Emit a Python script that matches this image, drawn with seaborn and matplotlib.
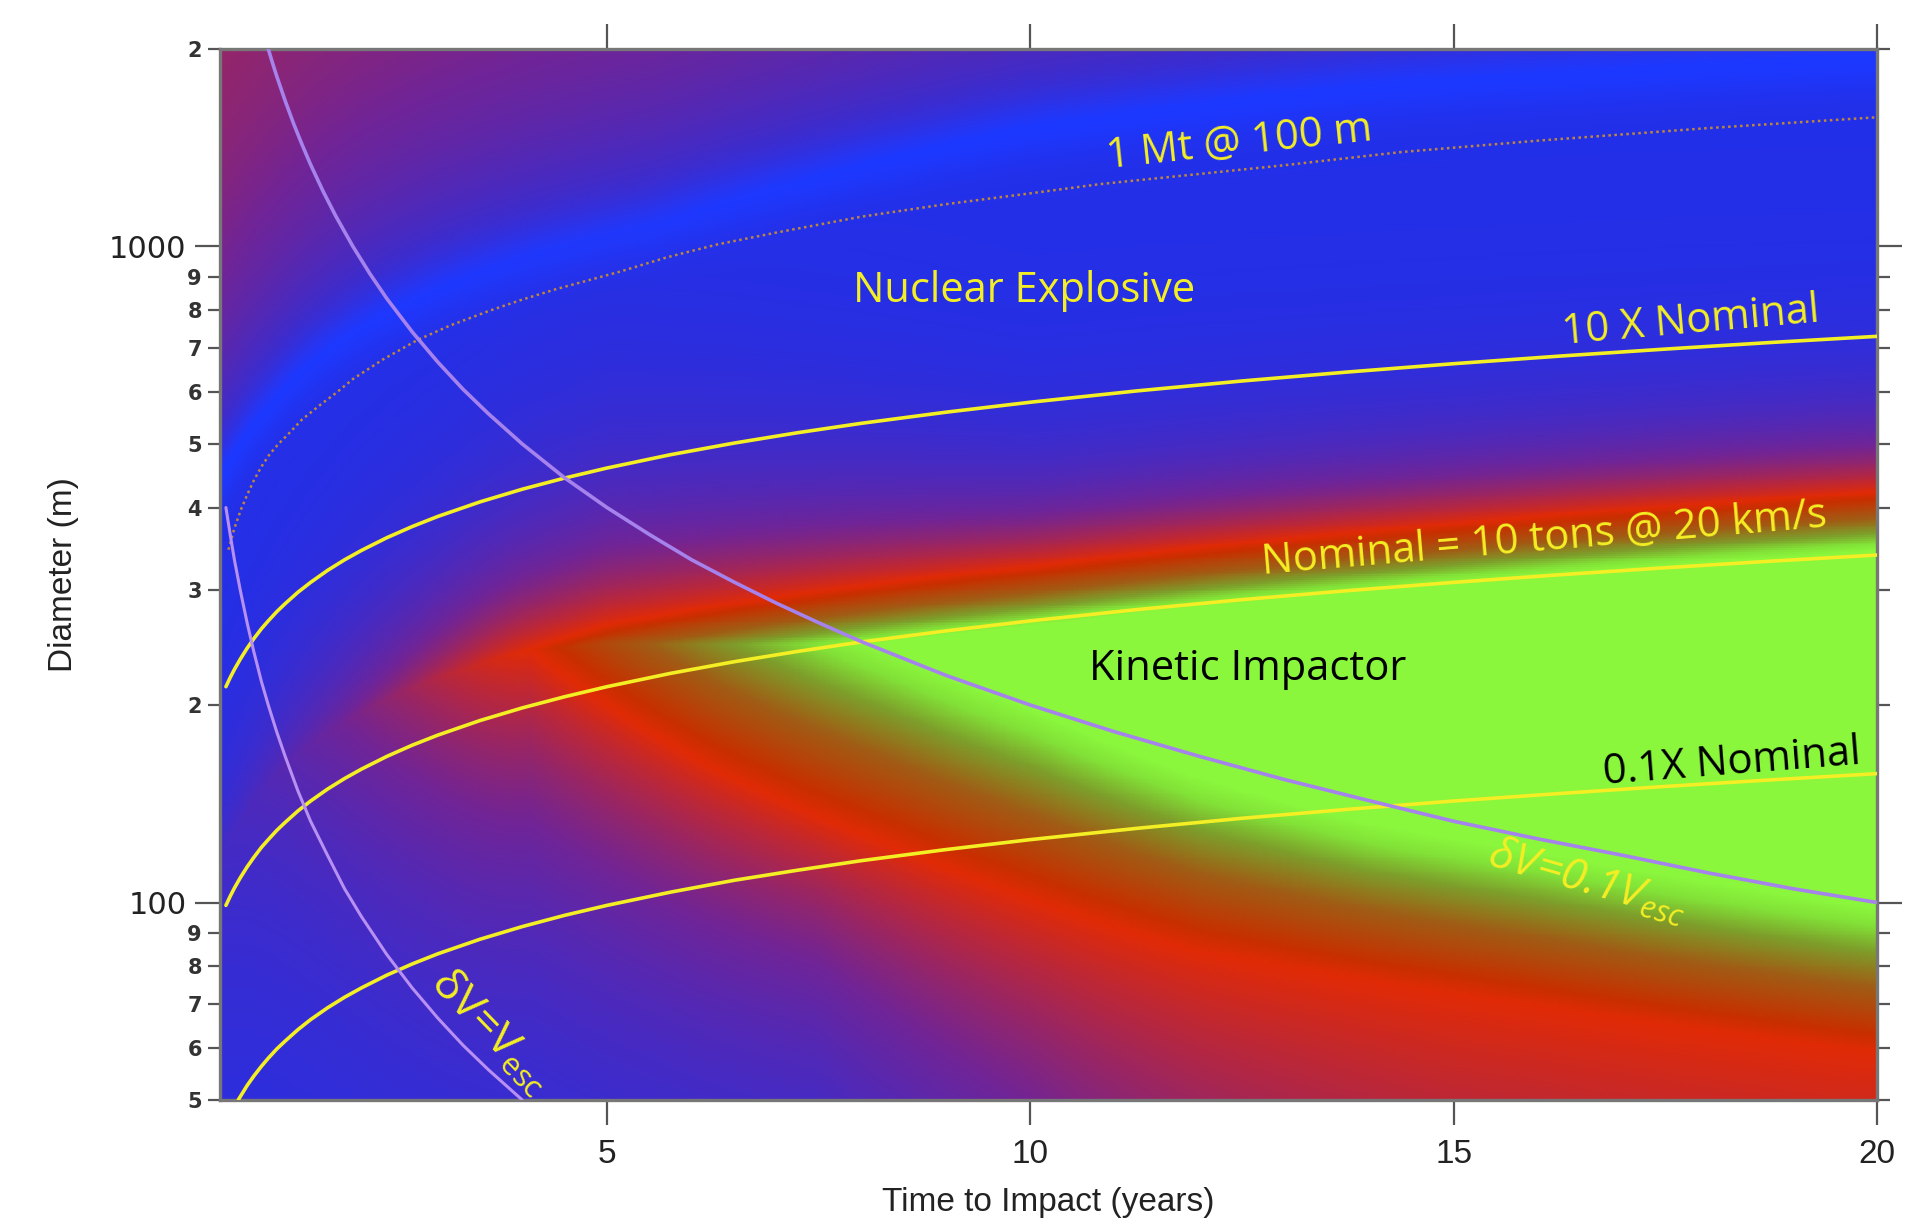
import numpy as np
import matplotlib
matplotlib.use("Agg")
import matplotlib.pyplot as plt
import seaborn as sns

sns.set_theme(style="white")
plt.rcParams["font.family"] = ["Open Sans", "DejaVu Sans"]
plt.rcParams["mathtext.default"] = "regular"

# ---------------- data ----------------
# kinetic-impactor curves (diameter in m vs time to impact in years)
t_nominal = [0.5, 0.55, 0.6, 0.67, 0.75, 0.83, 0.92, 1.0, 1.1, 1.2, 1.35, 1.5, 1.7, 1.9, 2.1, 2.4, 2.7,
             3.0, 3.5, 4, 4.5, 5, 5.75, 6.5, 7.25, 8, 9, 10, 11.25, 12.5, 13.75, 15, 16.25, 17.5, 18.75, 20]
D_nominal = [99.0, 102.2, 105.2, 109.1, 113.3, 117.2, 121.4, 124.7, 128.8, 132.5, 137.9, 142.8, 148.9,
             154.5, 159.7, 167.0, 173.7, 179.9, 189.4, 198.0, 205.9, 213.3, 223.5, 232.8, 241.4, 249.5,
             259.4, 268.7, 279.5, 289.5, 298.8, 307.6, 315.9, 323.8, 331.4, 338.6]
t_10x = t_nominal
D_10x = [213.3, 220.2, 226.6, 235.0, 244.1, 252.5, 261.5, 268.7, 277.5, 285.5, 297.1, 307.6, 320.8,
         332.9, 344.1, 359.8, 374.2, 387.6, 408.0, 426.6, 443.6, 459.5, 481.5, 501.5, 520.1, 537.5,
         558.9, 578.9, 602.2, 623.7, 643.7, 662.7, 680.6, 697.6, 714.0, 729.5]
t_01x = [0.645, 0.75, 0.83, 0.92, 1.0, 1.1, 1.2, 1.35, 1.5, 1.7, 1.9, 2.1, 2.4, 2.7, 3.0, 3.5, 4, 4.5,
         5, 5.75, 6.5, 7.25, 8, 9, 10, 11.25, 12.5, 13.75, 15, 16.25, 17.5, 18.75, 20]
D_01x = [50.0, 52.6, 54.4, 56.3, 57.9, 59.8, 61.5, 64.0, 66.3, 69.1, 71.7, 74.1, 77.5, 80.6, 83.5, 87.9,
         91.9, 95.6, 99.0, 103.7, 108.1, 112.0, 115.8, 120.4, 124.7, 129.7, 134.4, 138.7, 142.8, 146.6,
         150.3, 153.8, 157.2]
# nuclear 1 Mt @ 100 m curve (dotted)
t_1mt = [0.53, 0.6, 0.68, 0.75, 0.83, 0.92, 1.02, 1.12, 1.22, 1.4, 1.61, 1.8, 2.0, 2.35, 2.76, 3.15, 3.6,
         4.0, 4.4, 5.16, 5.7, 6.3, 7, 8, 9, 10, 10.83, 12, 13, 14.38, 16, 18, 20]
D_1mt = [345, 372, 398, 418, 440, 462, 483, 500, 515, 545, 573, 598, 628, 672, 720, 758, 797, 830, 861,
         916, 962, 1007, 1050, 1110, 1160, 1205, 1245, 1290, 1330, 1393, 1450, 1515, 1574]
# deltaV = 0.1 Vesc and deltaV = Vesc curves
t_dv01 = [1.0, 1.05, 1.1, 1.2, 1.3, 1.4, 1.5, 1.65, 1.8, 2.0, 2.2, 2.4, 2.7, 3.0, 3.3, 3.6, 4.0, 4.5, 5.0,
          5.5, 6.0, 6.5, 7.0, 7.5, 8, 9, 10, 11, 12, 13, 14, 15, 16, 17, 18, 19, 20]
D_dv01 = [2000, 1905, 1818, 1667, 1538, 1429, 1333, 1212, 1111, 1000, 909, 833, 741, 667, 606, 556, 500,
          444, 400, 364, 333, 308, 286, 267, 250, 222, 200, 182, 167, 154, 143, 133, 125, 118, 111, 105, 100]
t_dv1 = [0.5, 0.55, 0.6, 0.67, 0.75, 0.83, 0.92, 1.0, 1.1, 1.2, 1.35, 1.5, 1.7, 1.9, 2.1, 2.4, 2.7, 3.0,
         3.3, 3.6, 4.0]
D_dv1 = [400, 364, 333, 299, 267, 241, 217, 200, 182, 167, 148, 133, 118, 105, 95.2, 83.3, 74.1, 66.7,
         60.6, 55.6, 50]
# background field: red-band ridges of the kinetic region and the bright nuclear band
t_kin_upper = [0.43, 1, 2, 3, 4.09, 5, 7, 10, 14.4, 20]
D_kin_upper = [115, 152, 192, 220, 243, 265, 292, 325, 372, 423]
t_kin_lower = [4.09, 5, 6.25, 8.36, 10.83, 12, 15.8, 20]
D_kin_lower = [243, 200, 160, 122, 93, 84, 70, 59]
t_nuc = [0.43, 0.63, 1, 2, 4, 5.55, 7, 10, 14, 20]
D_nuc = [445, 492, 570, 743, 962, 1081, 1230, 1520, 1760, 1950]

x_ticks = [5, 10, 15, 20]
y_major = [100, 1000]
y_major_labels = ["100", "1000"]
y_minor = [50, 60, 70, 80, 90, 200, 300, 400, 500, 600, 700, 800, 900, 2000]
y_minor_labels = ["5", "6", "7", "8", "9", "2", "3", "4", "5", "6", "7", "8", "9", "2"]

# ---------------- figure ----------------
fig = plt.figure(figsize=(19.13, 12.27), dpi=100)
ax = fig.add_axes([220 / 1913, 127 / 1227, 1657 / 1913, 1051 / 1227])
ax.set_yscale("log")
ax.set_xlim(0.43, 20.0)
ax.set_ylim(50, 2000)

# ---------------- background field ----------------
tt = np.linspace(0.43, 20.0, 760)
ld = np.linspace(np.log10(50), np.log10(2000), 560)
TT, LD = np.meshgrid(tt, ld)


def logcurve(t, ts, Ds):
    return np.interp(np.log10(t), np.log10(ts), np.log10(Ds))


apex = t_kin_lower[0]
up = logcurve(TT, t_kin_upper, D_kin_upper)
lo = np.where(TT >= apex, logcurve(TT, t_kin_lower, D_kin_lower), up)
lo = np.minimum(lo, up)
lam_up = np.interp(TT, [0.43, 3, 5, 10, 20], [0.15, 0.14, 0.15, 0.1, 0.09])
lam_lo = np.interp(TT, [0.43, 4, 7.5, 10, 15, 20], [0.35, 0.33, 0.28, 0.4, 0.8, 0.9])
w_lo = np.interp(TT, [4, 10, 14, 20], [0.3, 0.29, 0.24, 0.22])
d_above = LD - up
d_below = lo - LD
fade = np.where(TT < apex, np.exp(-(np.clip(apex - TT, 0, None) / 2.6) ** 1.5), 1.0)
rk = np.ones_like(LD)
rk = np.where(d_above > 0, np.exp(-np.clip(d_above, 0, None) / lam_up), rk)
rk = np.where(d_below > 0, np.exp(-np.clip(d_below, 0, None) / lam_lo), rk)
rk = rk * fade

nuc = logcurve(TT, t_nuc, D_nuc)
dn = LD - nuc
rn = np.where(dn > 0, 0.7 * (1 - np.exp(-np.clip(dn, 0, None) / 0.3)), 0.0)
r = 1 - (1 - rk) * (1 - rn)


def ramp(x, stops, cols):
    cols = np.asarray(cols, float) / 255.0
    return np.stack([np.interp(x, stops, cols[:, i]) for i in range(3)], axis=-1)


base_blue = np.array([34, 47, 232]) / 255.0
bright_blue = np.array([28, 56, 255]) / 255.0
out_col = ramp(r, [0, 0.45, 0.75, 1.0],
               [(34, 47, 232), (112, 36, 150), (176, 38, 70), (224, 42, 6)])
bright = np.exp(-(dn / 0.05) ** 2) * (1 - r) ** 2
out_col = out_col + bright[..., None] * (bright_blue - base_blue)

inside = (d_above <= 0) & (d_below <= 0) & (TT >= apex)
g = np.clip(np.minimum(-d_above / 0.09, -d_below / w_lo), 0, 1)
in_col = ramp(g, [0, 0.12, 0.45, 0.7, 0.88, 1.0],
              [(224, 42, 6), (200, 46, 0), (160, 92, 20), (125, 158, 42), (130, 226, 55), (138, 246, 60)])
rgb = np.where(inside[..., None], in_col, out_col)
rgb = np.clip(rgb, 0, 1)

ax.pcolormesh(tt, 10 ** ld, rgb, shading="nearest", rasterized=True,
              antialiased=False, linewidth=0, zorder=0)

# ---------------- curves ----------------
yellow = "#f4ee24"
sns.lineplot(x=t_1mt, y=D_1mt, ax=ax, color="#c0873c", linewidth=1.8,
             linestyle=(0, (1, 1.4)), sort=False, estimator=None, zorder=3)
for tx, dy in [(t_10x, D_10x), (t_nominal, D_nominal), (t_01x, D_01x)]:
    sns.lineplot(x=tx, y=dy, ax=ax, color=yellow, linewidth=2.6, sort=False, estimator=None, zorder=3)
sns.lineplot(x=t_dv01, y=D_dv01, ax=ax, color="#a682ec", linewidth=2.6, sort=False, estimator=None, zorder=4)
sns.lineplot(x=t_dv1, y=D_dv1, ax=ax, color="#b890f2", linewidth=2.2, sort=False, estimator=None, zorder=4)

# ---------------- annotations ----------------
tk = dict(ha="center", va="center", rotation_mode="anchor", fontsize=30, zorder=6)
ax.text(12.47, 1436, "1 Mt @ 100 m", color=yellow, rotation=6, **tk)
ax.text(9.93, 855, "Nuclear Explosive", color=yellow, rotation=0, **tk)
ax.text(17.8, 769, "10 X Nominal", color=yellow, rotation=5, **tk)
ax.text(16.07, 358, "Nominal = 10 tons @ 20 km/s", color=yellow, rotation=4.8, **tk)
ax.text(12.57, 227, "Kinetic Impactor", color="black", rotation=0, **tk)
ax.text(18.28, 163, "0.1X Nominal", color="black", rotation=4.5, **tk)
tk["fontsize"] = 32
ax.text(16.58, 107.5, "δV=0.1V$_{esc}$", color=yellow, rotation=-16, style="italic", **tk)
ax.text(3.62, 63.4, "δV=V$_{esc}$", color=yellow, rotation=-46, **tk)

# ---------------- axes styling ----------------
narrow = ["Liberation Sans Narrow", "Liberation Sans", "DejaVu Sans"]
ax.set_xticks(x_ticks)
ax.set_xticklabels([str(v) for v in x_ticks], fontsize=24, family=narrow, color="#222222")
ax.xaxis.set_minor_locator(matplotlib.ticker.NullLocator())
ax.set_yticks(y_major)
ax.set_yticklabels(y_major_labels, fontsize=22, family=["DejaVu Sans"], color="#222222")
ax.set_yticks(y_minor, minor=True)
ax.set_yticklabels(y_minor_labels, minor=True, fontsize=15, family=["DejaVu Sans"],
                   fontweight="bold", color="#333333")

ax.tick_params(axis="x", which="major", direction="out", length=18, width=1.6, color="#555555",
               bottom=True, top=True, pad=10)
ax.tick_params(axis="y", which="major", direction="out", length=18, width=1.6, color="#555555",
               left=True, right=True, labelright=False, pad=6)
ax.tick_params(axis="y", which="minor", direction="out", length=9, width=1.6, color="#555555",
               left=True, right=True, labelright=False, pad=4)

for s in ax.spines.values():
    s.set_color("#777777")
    s.set_linewidth(2.4)
    s.set_visible(True)

ax.set_xlabel("Time to Impact (years)", fontsize=24, family=narrow, color="#222222", labelpad=12)
ax.set_ylabel("Diameter (m)", fontsize=24, family=narrow, color="#222222")
ax.yaxis.set_label_coords(-0.085, 0.5)

fig.savefig("out.png", dpi=100)
